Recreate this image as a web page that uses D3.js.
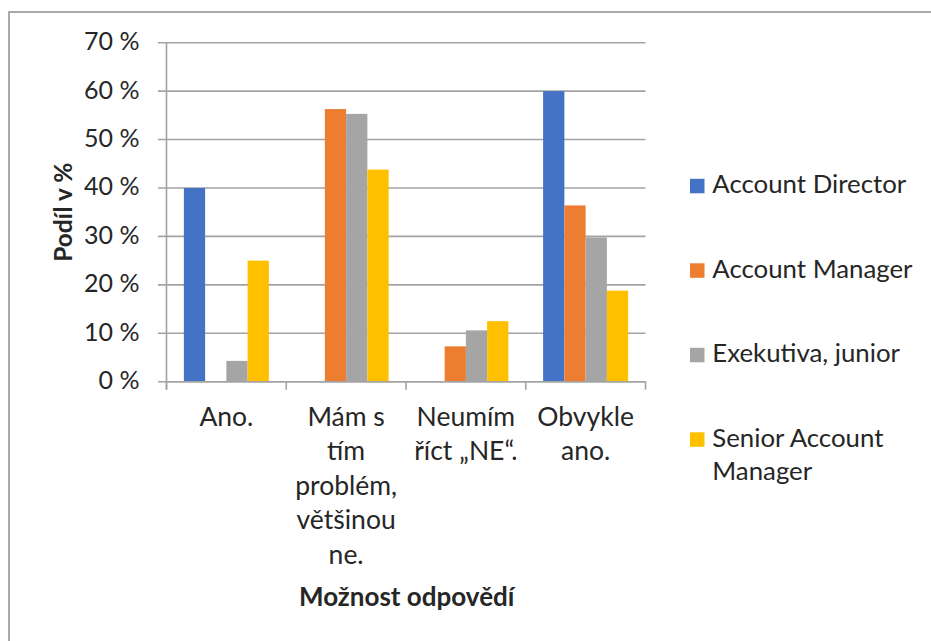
<!DOCTYPE html>
<html>
<head>
<meta charset="utf-8">
<script src="https://cdn.jsdelivr.net/npm/d3@7"></script>
<style>
  html, body { margin: 0; padding: 0; background: #fff; }
  svg { display: block; }
  text { font-family: Lato, "Open Sans", sans-serif; fill: #262626; }
</style>
</head>
<body>
<svg id="chart" width="931" height="641"></svg>
<script>
// Answer options (each one wrapped onto lines as shown under the axis)
const categories = ["Ano.", "Mám s tím problém, většinou ne.", "Neumím říct „NE“.", "Obvykle ano."];
const categoryLines = [
  ["Ano."],
  ["Mám s", "tím", "problém,", "většinou", "ne."],
  ["Neumím", "říct „NE“."],
  ["Obvykle", "ano."]
];

// Positions (series) and their shares in percent per answer option
const seriesNames = ["Account Director", "Account Manager", "Exekutiva, junior", "Senior Account Manager"];
const accountDirector      = [40.0, 0.0, 0.0, 60.0];
const accountManager       = [0.0, 56.3, 7.3, 36.4];
const exekutivaJunior      = [4.3, 55.3, 10.6, 29.8];
const seniorAccountManager = [25.0, 43.8, 12.5, 18.8];
const seriesValues = [accountDirector, accountManager, exekutivaJunior, seniorAccountManager];

const seriesColors = ["#4472C4", "#ED7D31", "#A5A5A5", "#FFC000"];
const legendLines = [["Account Director"], ["Account Manager"], ["Exekutiva, junior"], ["Senior Account", "Manager"]];

const yTicks = [0, 10, 20, 30, 40, 50, 60, 70];
const yTickLabels = ["0 %", "10 %", "20 %", "30 %", "40 %", "50 %", "60 %", "70 %"];

const yTitle = "Podíl v %";
const xTitle = "Možnost odpovědí";

const svg = d3.select("#chart");

// chart frame
svg.append("path")
  .attr("d", "M9,641 L9,12 L931,12")
  .attr("fill", "none")
  .attr("stroke", "#8f8f8f")
  .attr("stroke-width", 1.5);

const plot = { left: 166.5, right: 645.5, top: 42.7, bottom: 381.7 };

const x0 = d3.scaleBand()
  .domain(categories)
  .range([plot.left, plot.right])
  .paddingInner(0).paddingOuter(0);

const groupGap = x0.bandwidth() * 0.145;
const x1 = d3.scaleBand()
  .domain(d3.range(seriesNames.length))
  .range([groupGap, x0.bandwidth() - groupGap])
  .padding(0);

const y = d3.scaleLinear().domain([0, 70]).range([plot.bottom, plot.top]);
const color = d3.scaleOrdinal().domain(d3.range(seriesNames.length)).range(seriesColors);

// horizontal gridlines
svg.append("g")
  .selectAll("line")
  .data(yTicks)
  .join("line")
  .attr("x1", plot.left - 8.5)
  .attr("x2", plot.right)
  .attr("y1", d => y(d))
  .attr("y2", d => y(d))
  .attr("stroke", "#a3a3a3")
  .attr("stroke-width", 1.6);

// bars
const groups = svg.append("g")
  .selectAll("g")
  .data(categories)
  .join("g")
  .attr("transform", d => `translate(${x0(d)},0)`);

groups.selectAll("rect")
  .data((c, ci) => seriesValues.map((vals, si) => ({ si, v: vals[ci] })))
  .join("rect")
  .attr("x", d => x1(d.si))
  .attr("width", x1.bandwidth())
  .attr("y", d => y(d.v))
  .attr("height", d => y(0) - y(d.v))
  .attr("fill", d => color(d.si));

// y axis line
svg.append("line")
  .attr("x1", plot.left).attr("x2", plot.left)
  .attr("y1", plot.top).attr("y2", plot.bottom + 8)
  .attr("stroke", "#a3a3a3").attr("stroke-width", 1.6);

// category axis line with ticks between groups
svg.append("line")
  .attr("x1", plot.left).attr("x2", plot.right)
  .attr("y1", plot.bottom).attr("y2", plot.bottom)
  .attr("stroke", "#a3a3a3").attr("stroke-width", 1.6);

const boundaries = categories.map(c => x0(c)).concat([plot.right]);
svg.append("g")
  .selectAll("line")
  .data(boundaries)
  .join("line")
  .attr("x1", d => d).attr("x2", d => d)
  .attr("y1", plot.bottom).attr("y2", plot.bottom + 8)
  .attr("stroke", "#a3a3a3").attr("stroke-width", 1.6);

// y tick labels
svg.append("g")
  .selectAll("text")
  .data(yTicks)
  .join("text")
  .attr("x", 139.5)
  .attr("y", d => y(d) + 7.5)
  .attr("text-anchor", "end")
  .attr("font-size", 25)
  .attr("fill", "#404040")
  .text((d, i) => yTickLabels[i]);

// category labels
const catLabels = svg.append("g")
  .selectAll("text")
  .data(categories)
  .join("text")
  .attr("text-anchor", "middle")
  .attr("font-size", 26.5)
  .attr("fill", "#262626");

catLabels.selectAll("tspan")
  .data((c, i) => categoryLines[i].map(l => ({ l, c })))
  .join("tspan")
  .attr("x", d => x0(d.c) + x0.bandwidth() / 2)
  .attr("y", (d, i) => 425.7 + i * 34.5)
  .text(d => d.l);

// axis titles
svg.append("text")
  .attr("transform", `translate(72,${(plot.top + plot.bottom) / 2}) rotate(-90)`)
  .attr("text-anchor", "middle")
  .attr("font-size", 24.5)
  .attr("font-weight", "bold")
  .attr("fill", "#000")
  .text(yTitle);

svg.append("text")
  .attr("x", 406.7)
  .attr("y", 606)
  .attr("text-anchor", "middle")
  .attr("font-size", 26)
  .attr("font-weight", "bold")
  .attr("fill", "#000")
  .text(xTitle);

// legend
const legend = svg.append("g")
  .selectAll("g")
  .data(seriesNames)
  .join("g")
  .attr("transform", (d, i) => `translate(690,${193.3 + i * 84.5})`);

legend.append("rect")
  .attr("x", 0).attr("y", -14.5)
  .attr("width", 14.5).attr("height", 14.5)
  .attr("fill", (d, i) => color(i));

legend.append("text")
  .attr("font-size", 25.8)
  .attr("fill", "#262626")
  .selectAll("tspan")
  .data((d, i) => legendLines[i])
  .join("tspan")
  .attr("x", 22.3)
  .attr("y", (d, i) => i * 33.5)
  .text(d => d);
</script>
</body>
</html>
